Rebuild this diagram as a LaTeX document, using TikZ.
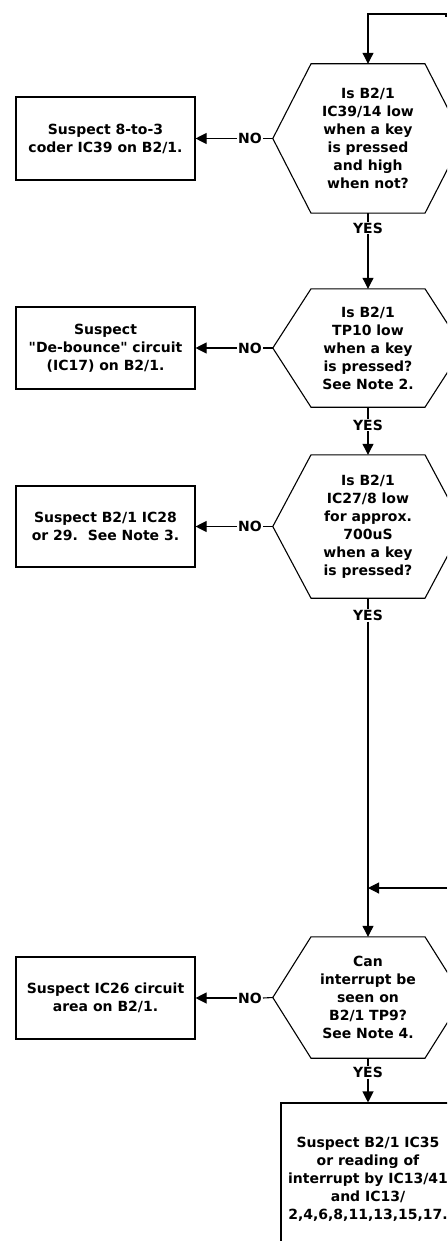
\documentclass[tikz,border=0pt]{standalone}
\usepackage{fontspec}
\setmainfont{DejaVu Sans}[Ligatures=TeXOff]
\usetikzlibrary{arrows.meta}

\tikzset{
  ask/.style={minimum width=190pt, inner sep=0pt, align=center},
  suspect/.style={draw, line width=1.1pt, minimum width=179pt, inner sep=0pt, align=center},
  lbl/.style={inner sep=1pt},
  link/.style={line width=1.1pt},
  flow/.style={link, -{Triangle[length=11pt,width=11pt]}}
}
% outline of a question node: flat top and bottom, pointed sides
\newcommand\hexframe[1]{\draw[link] ([xshift=-57pt]#1.north) -- ([xshift=57pt]#1.north)
  -- (#1.east) -- ([xshift=57pt]#1.south) -- ([xshift=-57pt]#1.south) -- (#1.west) -- cycle;}

\begin{document}
\begin{tikzpicture}[x=1pt, y=-1pt, font=\bfseries\fontsize{14}{18}\selectfont]
  \useasboundingbox (0,0) rectangle (447,1241);
  \clip (0,0) rectangle (447,1241);

  % questions
  \node[ask, minimum height=149pt] (q1) at (368,138.5)
    {Is B2/1\\IC39/14 low\\when a key\\is pressed\\and high\\when not?};
  \node[ask, minimum height=118pt] (q2) at (368,348)
    {Is B2/1\\TP10 low\\when a key\\is pressed?\\See Note 2.};
  \node[ask, minimum height=143pt] (q3) at (368,526.5)
    {Is B2/1\\IC27/8 low\\for approx.\\700uS\\when a key\\is pressed?};
  \node[ask, minimum height=121pt] (q4) at (368,997.5)
    {Can\\interrupt be\\seen on\\B2/1 TP9?\\See Note 4.};
  \hexframe{q1} \hexframe{q2} \hexframe{q3} \hexframe{q4}

  % suspects
  \node[suspect, minimum height=83pt] (s1) at (105.5,138.5)
    {Suspect 8-to-3\\coder IC39 on B2/1.};
  \node[suspect, minimum height=82pt] (s2) at (105.5,348)
    {Suspect\\"De-bounce" circuit\\(IC17) on B2/1.};
  \node[suspect, minimum height=81pt] (s3) at (105.5,526.5)
    {Suspect B2/1 IC28\\or 29.\ \ See Note 3.};
  \node[suspect, minimum height=82pt] (s4) at (105.5,998)
    {Suspect IC26 circuit\\area on B2/1.};
  \node[suspect, minimum width=174pt, minimum height=152pt] (s5) at (368,1179)
    {Suspect B2/1 IC35\\or reading of\\interrupt by IC13/41\\and IC13/\\2,4,6,8,11,13,15,17.};

  % labels
  \node[lbl] (n1) at (250,138.5) {NO};
  \node[lbl] (n2) at (250,348) {NO};
  \node[lbl] (n3) at (250,526.5) {NO};
  \node[lbl] (n4) at (250,998) {NO};
  \node[lbl] (y1) at (368,228) {YES};
  \node[lbl] (y2) at (368,425) {YES};
  \node[lbl] (y3) at (368,615) {YES};
  \node[lbl] (y4) at (368,1072) {YES};

  \coordinate (in1) at (446,17);
  \coordinate (in2) at (447,888);

  \draw[flow] (in1) -- ++(0,-3) -| (q1.north);
  \draw[link] (q1.south) -- (y1.north); \draw[flow] (y1.south) -- (q2.north);
  \draw[link] (q2.south) -- (y2.north); \draw[flow] (y2.south) -- (q3.north);
  \draw[link] (q3.south) -- (y3.north); \draw[flow] (y3.south) -- (q4.north);
  \draw[flow] (in2) -- (in2 -| q4.north);
  \draw[link] (q4.south) -- (y4.north); \draw[flow] (y4.south) -- (s5.north);

  \foreach \i in {1,2,3,4}
    {\draw[link] (q\i.west) -- (n\i.east); \draw[flow] (n\i.west) -- (s\i.east);}
\end{tikzpicture}
\end{document}
